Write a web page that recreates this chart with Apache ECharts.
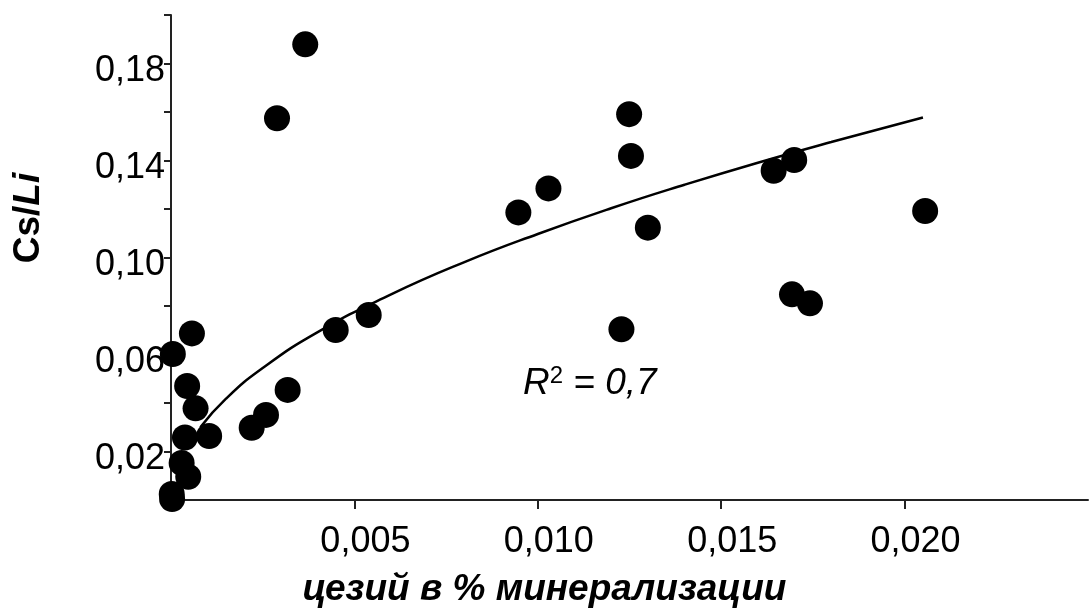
<!DOCTYPE html>
<html>
<head>
<meta charset="utf-8">
<script src="https://cdn.jsdelivr.net/npm/echarts@6/dist/echarts.min.js"></script>
<style>
html,body{margin:0;padding:0;background:#fff;}
#c{width:1091px;height:614px;}
</style>
</head>
<body>
<div id="c"></div>
<script>
// Cesium in % of mineralization (x) and Cs/Li ratio (y)
const cesiumX = [0.00366, 0.00289, 0.01249, 0.01254, 0.01029, 0.00947, 0.01300, 0.01228,
  0.01643, 0.01699, 0.02056, 0.01693, 0.01742, 0.00449, 0.00539, 0.00318,
  0.00259, 0.00220, 0.00104, 0.00057, 0.00005, 0.00044, 0.00067, 0.00038,
  0.00029, 0.00047, 0.00002, 0.00003];
const csLiY = [0.1879, 0.1574, 0.1591, 0.1419, 0.1285, 0.1186, 0.1123, 0.0704,
  0.1358, 0.1402, 0.1192, 0.0848, 0.0811, 0.0701, 0.0763, 0.0454,
  0.0351, 0.0298, 0.0264, 0.0687, 0.0602, 0.0470, 0.0378, 0.0258,
  0.0153, 0.0096, 0.0025, 0.0004];

// Trend curve points
const trendX = [0.0008, 0.0015, 0.0025, 0.0040, 0.0060, 0.0080, 0.0100, 0.0120, 0.0140, 0.0160, 0.0180, 0.0205];
const trendY = [0.0300, 0.0418, 0.0544, 0.0692, 0.0848, 0.0981, 0.1097, 0.1203, 0.1300, 0.1391, 0.1476, 0.1577];

// Tick labels
const yTickLabels = ['0,02', '0,06', '0,10', '0,14', '0,18'];
const xTickLabels = ['0,005', '0,010', '0,015', '0,020'];
const xTickValues = [0.005, 0.010, 0.015, 0.020];

const xTitle = 'цезий в % минерализации';

const FONT = "'Liberation Sans', Arial, sans-serif";

const chart = echarts.init(document.getElementById('c'), null, {renderer: 'canvas'});

const option = {
  animation: false,
  backgroundColor: '#fff',
  grid: {left: 171, top: 15, width: 923, height: 485, containLabel: false},
  xAxis: {
    type: 'value', min: 0, max: 0.025, interval: 0.005,
    name: xTitle,
    nameLocation: 'middle',
    nameGap: 71,
    nameTextStyle: {fontSize: 37, fontWeight: 'bold', fontStyle: 'italic', fontFamily: FONT, color: '#000', padding: [0, 170, 0, 0]},
    axisLine: {show: true, onZero: false, lineStyle: {color: '#222', width: 2}},
    axisTick: {show: true, length: 9, customValues: xTickValues, lineStyle: {color: '#222', width: 2}},
    splitLine: {show: false},
    axisLabel: {
      fontSize: 36, fontFamily: FONT, color: '#000', margin: 24, padding: [0, 0, 0, 22],
      formatter: function (v) {
        const s = v.toFixed(3).replace('.', ',');
        return xTickLabels.indexOf(s) >= 0 ? s : '';
      }
    }
  },
  yAxis: {
    type: 'value', min: 0, max: 0.2, interval: 0.02,
    axisLine: {show: true, onZero: false, lineStyle: {color: '#222', width: 2}},
    axisTick: {show: true, length: 7, lineStyle: {color: '#222', width: 2}},
    splitLine: {show: false},
    axisLabel: {
      fontSize: 36, fontFamily: FONT, color: '#000', margin: 6,
      verticalAlign: 'top', lineHeight: 16,
      formatter: function (v) {
        const s = v.toFixed(2).replace('.', ',');
        return yTickLabels.indexOf(s) >= 0 ? s : '';
      }
    }
  },
  graphic: [
    {
      type: 'text', x: 29, y: 218, rotation: Math.PI / 2,
      style: {
        text: '{a|Cs/}{b|Li}',
        align: 'center', verticalAlign: 'middle',
        rich: {
          a: {fontSize: 37, fontWeight: 'bold', fontFamily: FONT, fill: '#000', color: '#000'},
          b: {fontSize: 37, fontWeight: 'bold', fontStyle: 'italic', fontFamily: FONT, fill: '#000', color: '#000'}
        }
      }
    },
    {
      type: 'text', x: 523, y: 384,
      style: {
        text: '{r|R}{s|2}{r| = 0,7}',
        align: 'left', verticalAlign: 'middle',
        rich: {
          r: {fontSize: 37, fontStyle: 'italic', fontFamily: FONT, fill: '#000', color: '#000', lineHeight: 40},
          s: {fontSize: 24, fontFamily: FONT, fill: '#000', color: '#000', verticalAlign: 'top', lineHeight: 40, padding: [0, 0, 14, 0]}
        }
      }
    }
  ],
  series: [
    {
      type: 'line',
      data: trendX.map((x, i) => [x, trendY[i]]),
      smooth: true,
      showSymbol: false,
      lineStyle: {color: '#000', width: 2.5},
      z: 2
    },
    {
      type: 'scatter',
      data: cesiumX.map((x, i) => [x, csLiY[i]]),
      symbol: 'circle',
      symbolSize: 26,
      itemStyle: {color: '#000', opacity: 1},
      clip: false,
      z: 3
    }
  ]
};
chart.setOption(option);
</script>
</body>
</html>
